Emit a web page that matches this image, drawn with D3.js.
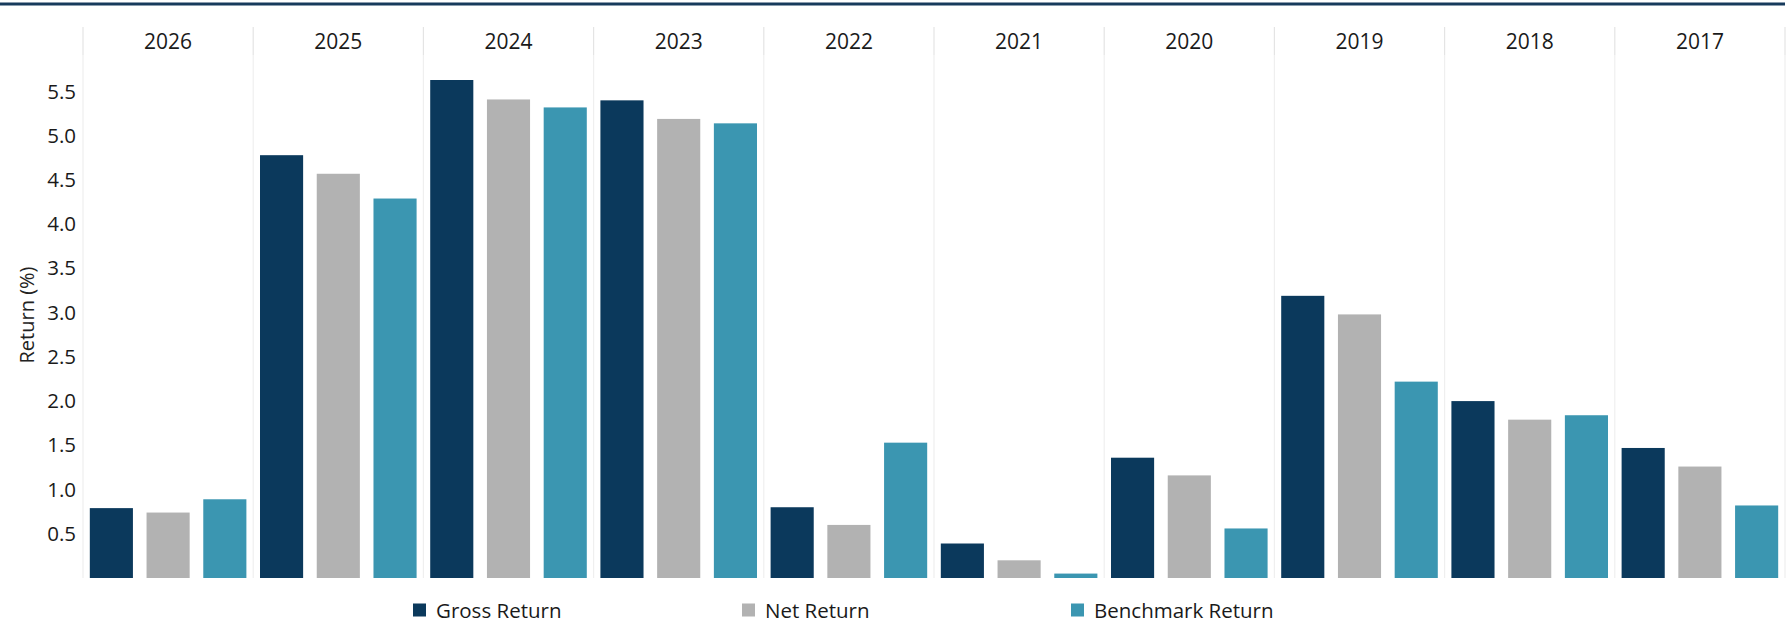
<!DOCTYPE html>
<html>
<head>
<meta charset="utf-8">
<script src="https://cdn.jsdelivr.net/npm/d3@7"></script>
<style>
  html, body { margin: 0; padding: 0; background: #ffffff; }
  svg { display: block; font-family: "Open Sans", "Noto Sans", sans-serif; }
</style>
</head>
<body>
<svg id="chart" width="1787" height="623"></svg>
<script>
// ---- data ----
const years = ["2026", "2025", "2024", "2023", "2022", "2021", "2020", "2019", "2018", "2017"];
const seriesNames = ["Gross Return", "Net Return", "Benchmark Return"];
const grossReturn     = [0.79, 4.78, 5.63, 5.40, 0.80, 0.39, 1.36, 3.19, 2.00, 1.47];
const netReturn       = [0.74, 4.57, 5.41, 5.19, 0.60, 0.20, 1.16, 2.98, 1.79, 1.26];
const benchmarkReturn = [0.89, 4.29, 5.32, 5.14, 1.53, 0.05, 0.56, 2.22, 1.84, 0.82];
const yTicks = [0.5, 1.0, 1.5, 2.0, 2.5, 3.0, 3.5, 4.0, 4.5, 5.0, 5.5];
const yLabel = "Return (%)";

const seriesValues = [grossReturn, netReturn, benchmarkReturn];
const colors = ["#0b395c", "#b2b2b2", "#3b96b1"];

const svg = d3.select("#chart");

// ---- layout ----
const panelLeft = 83, panelRight = 1785;
const panelTop = 27, baseY = 578;

const x0 = d3.scaleBand().domain(years).range([panelLeft, panelRight]).padding(0);
const x1 = d3.scaleBand().domain(seriesNames).range([0, x0.bandwidth()])
  .paddingInner(0.24).paddingOuter(0.12);
const y = d3.scaleLinear().domain([0, 5.5]).range([baseY, 91.5]);

// top rule
svg.append("line")
  .attr("x1", 0).attr("x2", 1785).attr("y1", 4).attr("y2", 4)
  .attr("stroke", "#173a5c").attr("stroke-width", 3);

// panel separators
const seps = years.map(d => x0(d)).concat([panelRight]);
svg.append("g").selectAll("line.sepLow").data(seps).join("line")
  .attr("x1", d => d).attr("x2", d => d)
  .attr("y1", 55).attr("y2", baseY)
  .attr("stroke", "#efefef").attr("stroke-width", 1.2);
svg.append("g").selectAll("line.sepHigh").data(seps).join("line")
  .attr("x1", d => d).attr("x2", d => d)
  .attr("y1", panelTop).attr("y2", 55)
  .attr("stroke", "#e4e4e4").attr("stroke-width", 1.2);

// year headers
svg.append("g").selectAll("text").data(years).join("text")
  .attr("x", d => x0(d) + x0.bandwidth() / 2)
  .attr("y", 41)
  .attr("text-anchor", "middle")
  .attr("dominant-baseline", "central")
  .attr("font-size", 21)
  .attr("font-weight", 500)
  .attr("fill", "#1a1a1a")
  .text(d => d);

// y axis
const yAxis = d3.axisLeft(y).tickValues(yTicks).tickSize(0).tickPadding(0)
  .tickFormat(d3.format(".1f"));
const gy = svg.append("g").attr("transform", "translate(76,0)").call(yAxis);
gy.select(".domain").remove();
gy.selectAll("text").attr("font-size", 20.5).attr("fill", "#1a1a1a")
  .attr("font-weight", 500)
  .attr("font-family", "\"Open Sans\", sans-serif");

// y label
svg.append("text")
  .attr("transform", "translate(26,315) rotate(-90)")
  .attr("text-anchor", "middle")
  .attr("dominant-baseline", "central")
  .attr("font-size", 20)
  .attr("fill", "#222")
  .text(yLabel);

// bars
const rows = [];
years.forEach((yr, i) => {
  seriesNames.forEach((s, j) => rows.push({ year: yr, series: s, value: seriesValues[j][i], color: colors[j] }));
});
svg.append("g").selectAll("rect").data(rows).join("rect")
  .attr("x", d => x0(d.year) + x1(d.series))
  .attr("width", x1.bandwidth())
  .attr("y", d => y(d.value))
  .attr("height", d => y(0) - y(d.value))
  .attr("fill", d => d.color);

// legend
const legendX = d3.scalePoint().domain(seriesNames).range([413, 1071]);
const lg = svg.append("g").selectAll("g").data(seriesNames).join("g")
  .attr("transform", d => `translate(${legendX(d)},610)`);
lg.append("rect")
  .attr("x", 0).attr("y", -6.5).attr("width", 13).attr("height", 13)
  .attr("fill", (d, i) => colors[i]);
lg.append("text")
  .attr("x", 23).attr("y", 0)
  .attr("dominant-baseline", "central")
  .attr("font-size", 20.5)
  .attr("fill", "#1a1a1a")
  .text(d => d);
</script>
</body>
</html>
